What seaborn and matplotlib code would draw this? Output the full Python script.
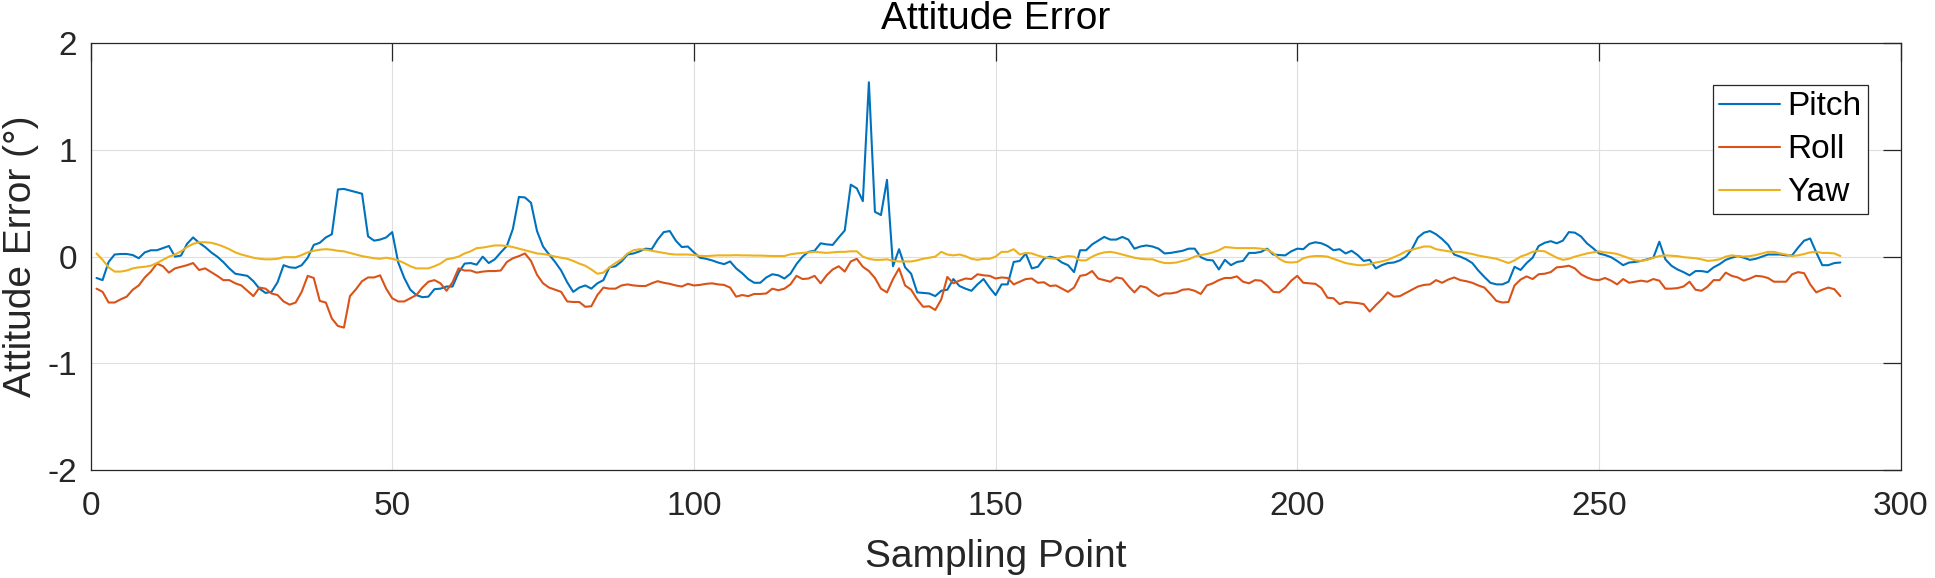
import pandas as pd
import numpy as np
import matplotlib
matplotlib.use("Agg")
import matplotlib.pyplot as plt
from matplotlib.lines import Line2D
import seaborn as sns

# sampling points 1..290
sample_idx = list(range(1, 291))

pitch = [
    -0.20, -0.22, -0.05, 0.02, 0.025, 0.025, 0.015, -0.015, 0.04, 0.06,
    0.06, 0.08, 0.10, 0.0, 0.01, 0.12, 0.18, 0.13, 0.09, 0.04,
    0.0, -0.05, -0.11, -0.16, -0.17, -0.18, -0.23, -0.30, -0.34, -0.33,
    -0.24, -0.08, -0.10, -0.105, -0.08, -0.01, 0.11, 0.13, 0.18, 0.21,
    0.63, 0.635, 0.62, 0.605, 0.59, 0.19, 0.15, 0.16, 0.18, 0.23,
    -0.055, -0.20, -0.31, -0.36, -0.38, -0.375, -0.305, -0.30, -0.28, -0.28,
    -0.15, -0.065, -0.06, -0.075, 0.0, -0.06, -0.025, 0.04, 0.10, 0.26,
    0.56, 0.555, 0.505, 0.24, 0.095, 0.02, -0.05, -0.13, -0.24, -0.33,
    -0.29, -0.27, -0.30, -0.25, -0.22, -0.10, -0.09, -0.045, 0.02, 0.03,
    0.05, 0.075, 0.07, 0.16, 0.23, 0.24, 0.15, 0.09, 0.095, 0.04,
    -0.01, -0.02, -0.035, -0.055, -0.07, -0.045, -0.11, -0.155, -0.21, -0.245,
    -0.245, -0.195, -0.165, -0.175, -0.205, -0.16, -0.07, 0.0, 0.045, 0.055,
    0.125, 0.115, 0.11, 0.18, 0.245, 0.675, 0.64, 0.52, 1.635, 0.42,
    0.39, 0.72, -0.09, 0.07, -0.10, -0.16, -0.335, -0.34, -0.345, -0.37,
    -0.32, -0.31, -0.21, -0.275, -0.30, -0.32, -0.26, -0.21, -0.29, -0.36,
    -0.26, -0.26, -0.05, -0.04, 0.03, -0.11, -0.095, -0.02, 0.0, -0.015,
    -0.055, -0.08, -0.145, 0.06, 0.06, 0.115, 0.15, 0.185, 0.16, 0.16,
    0.185, 0.16, 0.075, 0.095, 0.105, 0.095, 0.075, 0.03, 0.035, 0.045,
    0.055, 0.075, 0.075, -0.005, -0.03, -0.035, -0.12, -0.03, -0.08, -0.05,
    -0.04, 0.035, 0.035, 0.045, 0.075, 0.02, 0.015, 0.012, 0.05, 0.075,
    0.07, 0.12, 0.135, 0.125, 0.10, 0.06, 0.07, 0.03, 0.055, 0.015,
    -0.04, -0.03, -0.11, -0.08, -0.06, -0.055, -0.035, 0.0, 0.07, 0.18,
    0.225, 0.24, 0.21, 0.165, 0.11, 0.02, 0.0, -0.025, -0.06, -0.13,
    -0.19, -0.245, -0.26, -0.26, -0.235, -0.095, -0.125, -0.06, -0.01, 0.10,
    0.13, 0.145, 0.125, 0.15, 0.23, 0.225, 0.19, 0.125, 0.08, 0.03,
    0.015, -0.005, -0.04, -0.08, -0.055, -0.05, -0.04, -0.025, -0.01, 0.14,
    -0.025, -0.085, -0.12, -0.145, -0.175, -0.135, -0.135, -0.145, -0.10, -0.07,
    -0.03, -0.01, 0.006, -0.01, -0.03, -0.02, 0.0, 0.02, 0.02, 0.02,
    0.012, 0.012, 0.085, 0.15, 0.17, 0.04, -0.08, -0.08, -0.06, -0.055,
]

roll = [
    -0.30, -0.33, -0.43, -0.43, -0.40, -0.375, -0.31, -0.27, -0.195, -0.14,
    -0.065, -0.09, -0.15, -0.11, -0.095, -0.08, -0.06, -0.125, -0.11, -0.145,
    -0.18, -0.22, -0.22, -0.25, -0.27, -0.32, -0.37, -0.29, -0.30, -0.345,
    -0.36, -0.42, -0.45, -0.43, -0.33, -0.18, -0.20, -0.415, -0.43, -0.58,
    -0.65, -0.665, -0.37, -0.305, -0.23, -0.195, -0.195, -0.175, -0.30, -0.39,
    -0.42, -0.42, -0.39, -0.36, -0.29, -0.235, -0.22, -0.25, -0.32, -0.24,
    -0.11, -0.13, -0.13, -0.15, -0.14, -0.135, -0.135, -0.13, -0.05, -0.015,
    0.005, 0.03, -0.04, -0.17, -0.25, -0.29, -0.31, -0.33, -0.42, -0.425,
    -0.425, -0.47, -0.465, -0.36, -0.29, -0.30, -0.30, -0.27, -0.26, -0.27,
    -0.275, -0.275, -0.25, -0.23, -0.245, -0.255, -0.27, -0.28, -0.255, -0.27,
    -0.265, -0.255, -0.25, -0.26, -0.265, -0.29, -0.375, -0.36, -0.37, -0.35,
    -0.35, -0.345, -0.30, -0.315, -0.30, -0.26, -0.18, -0.21, -0.205, -0.18,
    -0.25, -0.175, -0.12, -0.09, -0.14, -0.045, -0.02, -0.095, -0.135, -0.20,
    -0.30, -0.335, -0.21, -0.11, -0.27, -0.31, -0.40, -0.47, -0.465, -0.50,
    -0.40, -0.19, -0.25, -0.225, -0.205, -0.21, -0.165, -0.175, -0.18, -0.205,
    -0.195, -0.20, -0.26, -0.235, -0.21, -0.205, -0.245, -0.24, -0.275, -0.27,
    -0.30, -0.33, -0.29, -0.18, -0.17, -0.135, -0.205, -0.22, -0.235, -0.195,
    -0.205, -0.275, -0.335, -0.275, -0.29, -0.335, -0.37, -0.345, -0.345, -0.335,
    -0.31, -0.305, -0.32, -0.35, -0.27, -0.25, -0.22, -0.20, -0.20, -0.185,
    -0.235, -0.25, -0.22, -0.225, -0.27, -0.33, -0.335, -0.29, -0.225, -0.18,
    -0.245, -0.25, -0.255, -0.295, -0.385, -0.39, -0.445, -0.425, -0.43, -0.435,
    -0.445, -0.515, -0.455, -0.40, -0.335, -0.375, -0.37, -0.34, -0.31, -0.28,
    -0.265, -0.26, -0.22, -0.245, -0.215, -0.195, -0.22, -0.23, -0.245, -0.27,
    -0.29, -0.35, -0.415, -0.43, -0.425, -0.27, -0.215, -0.185, -0.21, -0.165,
    -0.16, -0.145, -0.10, -0.095, -0.085, -0.11, -0.165, -0.195, -0.215, -0.22,
    -0.20, -0.225, -0.26, -0.21, -0.245, -0.235, -0.225, -0.235, -0.21, -0.225,
    -0.30, -0.30, -0.295, -0.28, -0.235, -0.31, -0.32, -0.28, -0.22, -0.22,
    -0.15, -0.18, -0.195, -0.225, -0.205, -0.18, -0.185, -0.20, -0.235, -0.235,
    -0.235, -0.165, -0.145, -0.155, -0.26, -0.335, -0.31, -0.29, -0.305, -0.37,
]

yaw = [
    0.03, -0.03, -0.10, -0.14, -0.14, -0.13, -0.11, -0.10, -0.095, -0.085,
    -0.06, -0.03, 0.0, 0.02, 0.05, 0.09, 0.12, 0.135, 0.135, 0.13,
    0.115, 0.095, 0.07, 0.04, 0.02, 0.005, -0.01, -0.02, -0.025, -0.025,
    -0.02, -0.005, -0.005, -0.005, 0.015, 0.04, 0.055, 0.065, 0.07, 0.065,
    0.055, 0.05, 0.035, 0.02, 0.005, -0.005, -0.015, -0.02, -0.01, -0.02,
    -0.035, -0.06, -0.09, -0.11, -0.11, -0.11, -0.09, -0.065, -0.025, -0.015,
    0.0, 0.03, 0.05, 0.08, 0.085, 0.095, 0.105, 0.105, 0.10, 0.09,
    0.075, 0.06, 0.045, 0.03, 0.025, 0.015, 0.0, -0.01, -0.02, -0.04,
    -0.065, -0.085, -0.12, -0.16, -0.15, -0.10, -0.06, -0.025, 0.03, 0.06,
    0.07, 0.065, 0.055, 0.045, 0.035, 0.025, 0.02, 0.02, 0.02, 0.015,
    0.008, 0.005, 0.008, 0.012, 0.012, 0.012, 0.014, 0.012, 0.012, 0.01,
    0.01, 0.008, 0.006, 0.006, 0.006, 0.022, 0.03, 0.035, 0.04, 0.045,
    0.04, 0.035, 0.04, 0.045, 0.045, 0.05, 0.05, 0.0, -0.02, -0.03,
    -0.03, -0.025, -0.04, -0.045, -0.045, -0.045, -0.035, -0.02, -0.01, 0.0,
    0.045, 0.02, 0.012, 0.02, 0.005, -0.02, -0.03, -0.02, -0.02, 0.0,
    0.045, 0.045, 0.07, 0.02, 0.035, 0.03, 0.01, -0.005, -0.015, -0.02,
    -0.005, 0.005, 0.0, -0.035, -0.035, 0.0, 0.025, 0.04, 0.045, 0.035,
    0.02, 0.005, -0.01, -0.02, -0.025, -0.025, -0.045, -0.06, -0.06, -0.055,
    -0.04, -0.025, 0.0, 0.015, 0.025, 0.04, 0.06, 0.09, 0.085, 0.08,
    0.08, 0.08, 0.08, 0.075, 0.065, 0.035, -0.02, -0.05, -0.055, -0.05,
    -0.015, 0.0, 0.006, 0.006, 0.0, -0.02, -0.04, -0.06, -0.07, -0.08,
    -0.08, -0.07, -0.055, -0.045, -0.03, -0.005, 0.02, 0.05, 0.065, 0.08,
    0.095, 0.095, 0.07, 0.06, 0.05, 0.045, 0.045, 0.035, 0.025, 0.01,
    0.0, -0.01, -0.02, -0.04, -0.06, -0.035, 0.0, 0.02, 0.045, 0.055,
    0.05, 0.02, -0.01, -0.03, -0.02, 0.0, 0.015, 0.03, 0.04, 0.05,
    0.04, 0.035, 0.025, 0.005, -0.015, -0.035, -0.04, -0.03, -0.01, 0.005,
    0.012, 0.008, 0.005, -0.005, -0.01, -0.015, -0.025, -0.04, -0.035, -0.025,
    0.0, 0.012, 0.005, 0.0, 0.005, 0.015, 0.03, 0.045, 0.045, 0.03,
    0.02, 0.006, 0.012, 0.025, 0.04, 0.045, 0.035, 0.035, 0.03, 0.006,
]

series_names = ["Pitch", "Roll", "Yaw"]
series_colors = ["#0072BD", "#D95319", "#EDB120"]
x_ticks = [0, 50, 100, 150, 200, 250, 300]
y_ticks = [-2, -1, 0, 1, 2]

df = pd.DataFrame({"Sampling Point": sample_idx, "Pitch": pitch, "Roll": roll, "Yaw": yaw})
long_df = df.melt(id_vars="Sampling Point", var_name="Axis", value_name="Error")

sns.set_theme(style="white")
plt.rcParams["font.family"] = ["Liberation Sans", "DejaVu Sans"]
plt.rcParams["axes.unicode_minus"] = False

W, H = 1935, 578
fig = plt.figure(figsize=(W / 100, H / 100), dpi=100)
left, right, top, bottom = 90.5, 1900.7, 43.3, 470.0
ax = fig.add_axes([left / W, 1 - bottom / H, (right - left) / W, (bottom - top) / H])

sns.lineplot(data=long_df, x="Sampling Point", y="Error", hue="Axis",
             hue_order=series_names, palette=series_colors, linewidth=1.5,
             legend=False, ax=ax)

ax.set_xlim(0, 300)
ax.set_ylim(-2, 2)
ax.set_xticks(x_ticks)
ax.set_yticks(y_ticks)
ax.grid(True, color="#DFDFDF", linewidth=0.8)
ax.set_axisbelow(True)

text_col = "#262626"
for sp in ax.spines.values():
    sp.set_color(text_col)
    sp.set_linewidth(0.9)
ax.tick_params(axis="both", direction="in", length=13, width=0.9, color=text_col,
               labelsize=24, labelcolor=text_col, top=True, right=True)
ax.tick_params(axis="x", pad=15)
ax.tick_params(axis="y", pad=9.5)

ax.set_xlabel("Sampling Point", fontsize=28, color=text_col)
ax.set_ylabel("Attitude Error (°)", fontsize=28, color=text_col)
ax.xaxis.set_label_coords(0.5, -0.162)
ax.yaxis.set_label_coords(-0.0285, 0.5)
ax.set_title("Attitude Error", fontsize=28, color="black", y=1.0328, pad=0)

handles = [Line2D([0], [0], color=c, linewidth=1.5) for c in series_colors]
leg = ax.legend(handles, series_names, loc="upper right",
                bbox_to_anchor=(0.9818, 0.9016), borderaxespad=0,
                fontsize=24, frameon=True, fancybox=False, framealpha=1,
                edgecolor=text_col, handlelength=1.85, handletextpad=0.22,
                borderpad=0.18, labelspacing=0.36)
leg.get_frame().set_linewidth(0.9)
for t in leg.get_texts():
    t.set_color("black")

fig.savefig("out.png", dpi=100)
